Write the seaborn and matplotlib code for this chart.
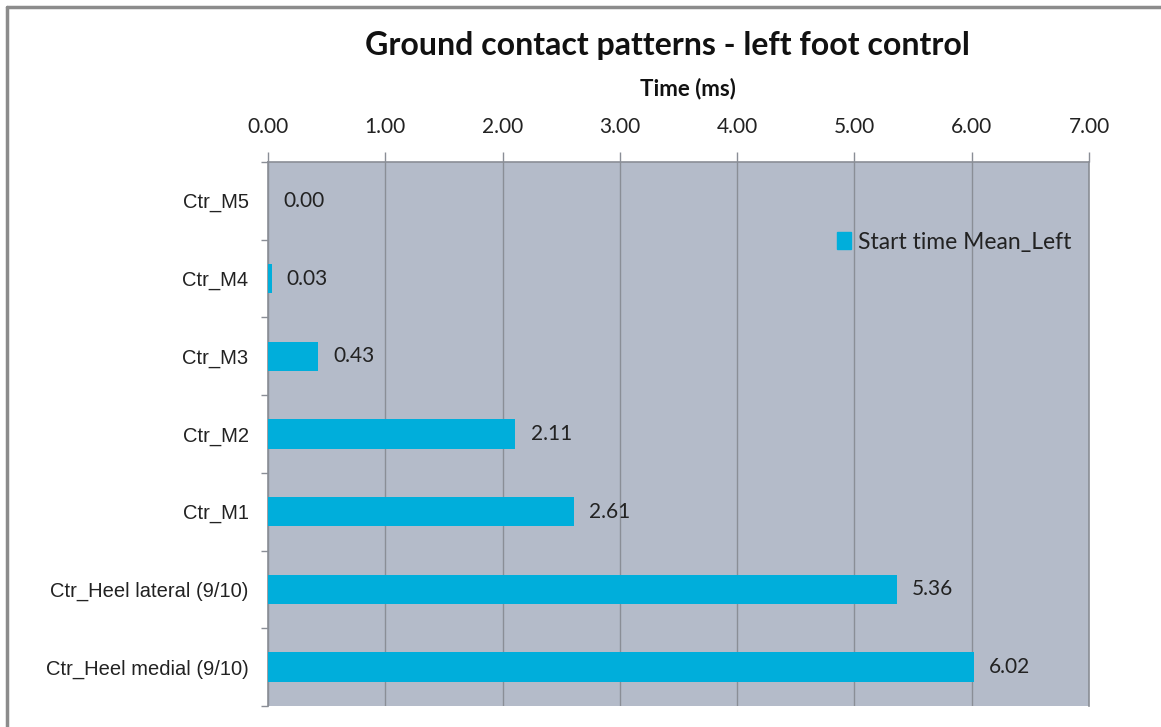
import matplotlib
matplotlib.use("Agg")
import matplotlib.pyplot as plt
from matplotlib.lines import Line2D
from matplotlib.patches import Patch
import seaborn as sns
import pandas as pd

# Ground contact start times per foot region (ms)
regions = [
    "Ctr_M5",
    "Ctr_M4",
    "Ctr_M3",
    "Ctr_M2",
    "Ctr_M1",
    "Ctr_Heel lateral (9/10)",
    "Ctr_Heel medial (9/10)",
]
start_time_mean_left = [0.00, 0.03, 0.43, 2.11, 2.61, 5.36, 6.02]
x_ticks = [0, 1, 2, 3, 4, 5, 6, 7]
series_name = "Start time Mean_Left"

df = pd.DataFrame({"region": regions, "value": start_time_mean_left})

sns.set_theme(style="white")
plt.rcParams["font.family"] = ["Lato", "DejaVu Sans"]

BAR = "#00AEDB"
PANEL = "#B4BBC9"
GRID = "#8A8E96"
TEXT = "#222222"

fig = plt.figure(figsize=(11.61, 7.27), dpi=100)
fig.patch.set_facecolor("white")
ax = fig.add_axes([268 / 1161, 1 - 706 / 727, (1089 - 268) / 1161, (706 - 162) / 727])
ax.set_facecolor(PANEL)

sns.barplot(data=df, x="value", y="region", orient="h", color=BAR,
            width=0.38, saturation=1, linewidth=0, ax=ax, zorder=3)

ax.set_xlim(0, 7)
ax.set_ylim(6.5, -0.5)
ax.set_xticks(x_ticks)
ax.set_xticklabels([f"{t:.2f}" for t in x_ticks])
ax.xaxis.tick_top()
ax.tick_params(axis="x", which="major", top=True, bottom=False, length=7,
               width=1, color=GRID, pad=11, labelsize=15, labelcolor=TEXT)
ax.set_xlabel("")
ax.set_ylabel("")

# category labels without ticks; ticks at category boundaries
ax.tick_params(axis="y", which="major", length=0, pad=14, labelsize=14.5,
               labelcolor=TEXT, labelfontfamily="Liberation Sans")
ax.set_yticks([i + 0.5 for i in range(-1, len(regions))], minor=True)
ax.tick_params(axis="y", which="minor", left=True, length=5, width=1, color=GRID)

ax.grid(axis="x", color=GRID, linewidth=1, zorder=0)
ax.set_axisbelow(True)
for side in ("top", "left", "right"):
    ax.spines[side].set_visible(True)
    ax.spines[side].set_color(GRID)
    ax.spines[side].set_linewidth(1.2)
ax.spines["bottom"].set_visible(False)

for i, v in enumerate(start_time_mean_left):
    ax.annotate(f"{v:.2f}", xy=(v, i), xytext=(11, 0), textcoords="offset points",
                ha="left", va="center", fontsize=15, color=TEXT, zorder=4)

ax.legend(handles=[Patch(facecolor=BAR, edgecolor=BAR, label=series_name)],
          loc="center left", bbox_to_anchor=(826 / 1161, 1 - 242 / 727),
          bbox_transform=fig.transFigure, frameon=False, fontsize=16.5,
          handlelength=0.6, handleheight=0.75, handletextpad=0.3,
          borderpad=0, labelcolor=TEXT)

fig.text(667 / 1161, 1 - 45 / 727, "Ground contact patterns - left foot control",
         ha="center", va="center", fontsize=23, fontweight="bold", color="#111111")
fig.text(688 / 1161, 1 - 89 / 727, "Time (ms)", ha="center", va="center",
         fontsize=16, fontweight="bold", color="#111111")

# chart frame
fig.add_artist(Line2D([7 / 1161, 7 / 1161], [0, 1 - 7 / 727],
                      transform=fig.transFigure, color="#8C8C8C", linewidth=2.5))
fig.add_artist(Line2D([7 / 1161, 1], [1 - 7 / 727, 1 - 7 / 727],
                      transform=fig.transFigure, color="#8C8C8C", linewidth=2.5))

fig.savefig("out.png", dpi=100)
